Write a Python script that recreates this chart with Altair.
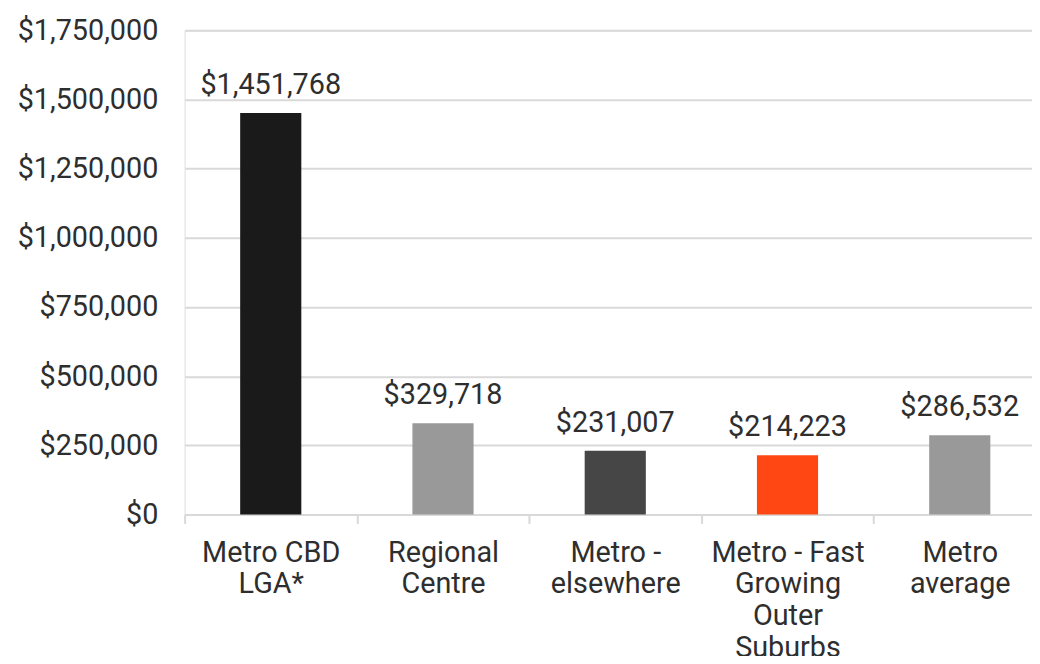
import json
import altair as alt
import pandas as pd

categories = [
    "Metro CBD LGA*",
    "Regional Centre",
    "Metro - elsewhere",
    "Metro - Fast Growing Outer Suburbs",
    "Metro average",
]
values = [1451768, 329718, 231007, 214223, 286532]
bar_colors = ["#1a1a1a", "#999999", "#464646", "#ff4713", "#999999"]
label_lines = [
    ["Metro CBD", "LGA*"],
    ["Regional", "Centre"],
    ["Metro -", "elsewhere"],
    ["Metro - Fast", "Growing", "Outer", "Suburbs"],
    ["Metro", "average"],
]
y_ticks = [0, 250000, 500000, 750000, 1000000, 1250000, 1500000, 1750000]

df = pd.DataFrame({"category": categories, "value": values, "color": bar_colors})
line_map = json.dumps(dict(zip(categories, label_lines)))

FONT = "Roboto"
TEXT = "#2e2e2e"
GRID = "#d9d9d9"
FS = 29

x_enc = alt.X(
    "category:N",
    sort=categories,
    scale=alt.Scale(paddingInner=0, paddingOuter=0),
    axis=alt.Axis(
        title=None,
        labelAngle=0,
        labelExpr=f"{line_map}[datum.label]",
        labelFont=FONT,
        labelFontSize=FS,
        labelColor=TEXT,
        labelLineHeight=32,
        labelPadding=15,
        labelBaseline="top",
        tickBand="extent",
        tickColor=GRID,
        tickSize=9,
        tickWidth=2,
        domainColor=GRID,
        domainWidth=2,
        grid=False,
    ),
)

y_enc = alt.Y(
    "value:Q",
    scale=alt.Scale(domain=[0, 1750000], nice=False),
    axis=alt.Axis(
        title=None,
        values=y_ticks,
        format="$,.0f",
        labelFont=FONT,
        labelFontSize=FS,
        labelColor=TEXT,
        labelPadding=27,
        ticks=False,
        domain=False,
        grid=True,
        gridColor=GRID,
        gridWidth=2,
    ),
)

bars = alt.Chart(df).mark_bar(width=alt.RelativeBandSize(0.355)).encode(
    x=x_enc,
    y=y_enc,
    color=alt.Color("color:N", scale=None),
)

labels = alt.Chart(df).mark_text(
    font=FONT, fontSize=FS, color=TEXT, baseline="alphabetic", dy=-19
).encode(
    x=alt.X("category:N", sort=categories),
    y=alt.Y("value:Q"),
    text=alt.Text("value:Q", format="$,.0f"),
)

chart = (
    alt.layer(bars, labels)
    .properties(
        width=868,
        height=488,
        autosize=alt.AutoSizeParams(type="none"),
        padding={"left": 178, "top": 20, "right": -14, "bottom": 140},
    )
    .configure_view(stroke=None)
    .configure(background="white")
)

chart.save("out.html", embed_options={"renderer": "svg", "actions": False})
